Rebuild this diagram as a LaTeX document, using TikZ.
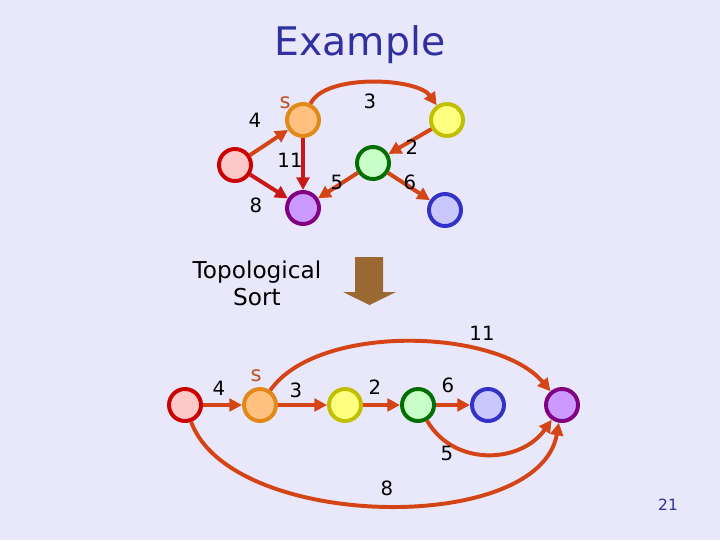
\documentclass[tikz,border=0pt]{standalone}
\usepackage{fontspec}
\setmainfont{DejaVu Sans}
\usetikzlibrary{arrows.meta}

\definecolor{bgcol}{RGB}{232,232,250}
\definecolor{titlecol}{RGB}{48,48,160}
\definecolor{edgecol}{RGB}{212,68,20}
\definecolor{edgered}{RGB}{200,24,24}
\definecolor{scol}{RGB}{192,80,32}
\definecolor{sortcol}{RGB}{154,104,50}

\begin{document}
\begin{tikzpicture}[x=0.025cm, y=-0.025cm, thick]
                % 0. Canvas
                \fill[bgcol] (0,0) rectangle (720,540);
                \useasboundingbox (0,0) rectangle (720,540);

                % 1. Styles
                \tikzstyle{Vertex} = [circle, line width=2.8pt, minimum size=0.8cm, inner sep=0pt]
                \tikzstyle{VRed}    = [Vertex, draw={rgb,255:red,204;green,0;blue,0}, fill={rgb,255:red,255;green,200;blue,200}]
                \tikzstyle{VOrange} = [Vertex, draw={rgb,255:red,226;green,136;blue,24}, fill={rgb,255:red,255;green,192;blue,128}]
                \tikzstyle{VYellow} = [Vertex, draw={rgb,255:red,192;green,192;blue,0}, fill={rgb,255:red,255;green,255;blue,128}]
                \tikzstyle{VGreen}  = [Vertex, draw={rgb,255:red,0;green,110;blue,0}, fill={rgb,255:red,200;green,255;blue,200}]
                \tikzstyle{VBlue}   = [Vertex, draw={rgb,255:red,50;green,50;blue,200}, fill={rgb,255:red,200;green,200;blue,255}]
                \tikzstyle{VPurple} = [Vertex, draw={rgb,255:red,128;green,0;blue,128}, fill={rgb,255:red,204;green,153;blue,255}]
                \tikzstyle{Edge}    = [line width=2.8pt, edgecol, -{Triangle[length=9pt, width=9pt]}]
                \tikzstyle{EdgeRed} = [Edge, edgered]
                \tikzstyle{Weight}  = [font=\fontsize{14}{16}\selectfont, inner sep=0pt]
                \tikzstyle{Source}  = [font=\fontsize{15}{17}\selectfont, scol, inner sep=0pt]

                % 2. Title
                \node[titlecol, font=\fontsize{28}{32}\selectfont] (title) at (360,45) {Example};

                % 3. Graph before sorting
                \node[VRed]    (tr) at (235,165) {};
                \node[VOrange] (ts) at (303,120) {};
                \node[VYellow] (ty) at (447,120) {};
                \node[VGreen]  (tg) at (373,163) {};
                \node[VPurple] (tp) at (303,208) {};
                \node[VBlue]   (tb) at (445,210) {};

                \draw[Edge]    (tr) -- (ts);
                \draw[Edge]    (ts) to[out=65, in=125, looseness=0.68] (ty);
                \draw[Edge]    (ty) -- (tg);
                \draw[EdgeRed] (ts) -- (tp);
                \draw[EdgeRed] (tr) -- (tp);
                \draw[Edge]    (tg) -- (tp);
                \draw[Edge]    (tg) -- (tb);

                \node[Source] (tsl) at (285,103) {s};
                \node[Weight] (tw4)  at (255,120) {4};
                \node[Weight] (tw3)  at (370,101) {3};
                \node[Weight] (tw2)  at (412,147) {2};
                \node[Weight] (tw11) at (290,160) {11};
                \node[Weight] (tw5)  at (337,182) {5};
                \node[Weight] (tw6)  at (410,182) {6};
                \node[Weight] (tw8)  at (256,205) {8};

                % 4. The sorting step
                \node[align=center, font=\fontsize{16.5}{19}\selectfont] (sortlbl) at (257,283) {Topological\\Sort};
                \fill[sortcol] (355,257) -- (383,257) -- (383,292) -- (396,292)
                    -- (369.5,305) -- (343,292) -- (355,292) -- cycle;

                % 5. Graph after sorting
                \node[VRed]    (br) at (185,405) {};
                \node[VOrange] (bs) at (260,405) {};
                \node[VYellow] (by) at (345,405) {};
                \node[VGreen]  (bg) at (418,405) {};
                \node[VBlue]   (bb) at (488,405) {};
                \node[VPurple] (bp) at (562,405) {};

                \draw[Edge] (br) -- (bs);
                \draw[Edge] (bs) -- (by);
                \draw[Edge] (by) -- (bg);
                \draw[Edge] (bg) -- (bb);
                \draw[Edge] (bs) to[out=55, in=130, looseness=0.75] (bp);
                \draw[Edge] (bg) to[out=-60, in=-125, looseness=1.1] (bp);
                \draw[Edge] (br) to[out=-70, in=-100, looseness=0.8] (bp);

                \node[Source] (bsl) at (256,376) {s};
                \node[Weight] (bw4)  at (219,388) {4};
                \node[Weight] (bw3)  at (296,390) {3};
                \node[Weight] (bw2)  at (375,387) {2};
                \node[Weight] (bw6)  at (448,385) {6};
                \node[Weight] (bw11) at (482,333) {11};
                \node[Weight] (bw5)  at (447,453) {5};
                \node[Weight] (bw8)  at (387,488) {8};

                % 6. Slide number
                \node[titlecol, font=\fontsize{11}{13}\selectfont] (page) at (668,505) {21};

            \end{tikzpicture}
\end{document}
